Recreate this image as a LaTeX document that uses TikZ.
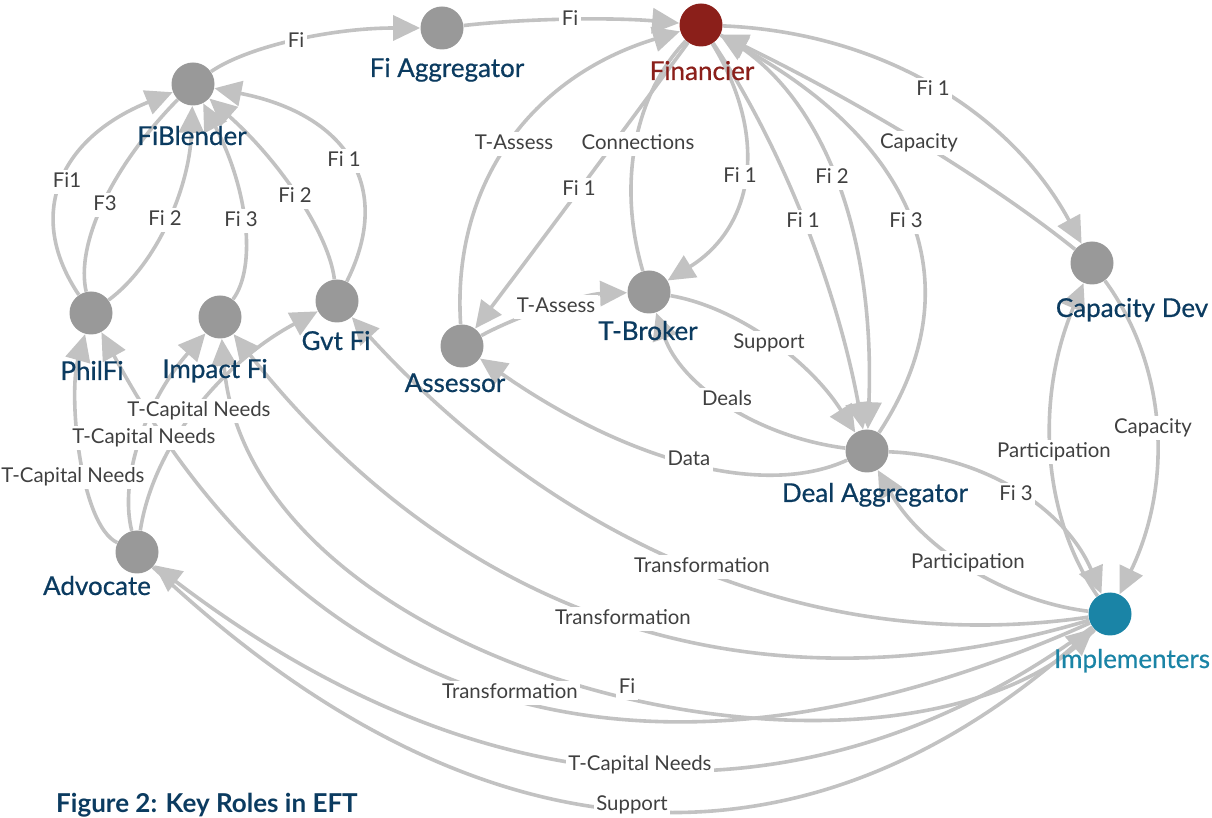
\documentclass[tikz,border=0pt]{standalone}
\usepackage{fontspec}
\setmainfont{Lato}
\newfontfamily\nodefont{Lato}[FakeBold=0.6]
\usetikzlibrary{arrows.meta,calc}
\definecolor{ngray}{RGB}{153,153,153}
\definecolor{egray}{RGB}{194,194,194}
\definecolor{nblue}{RGB}{11,59,96}
\definecolor{nred}{RGB}{139,31,26}
\definecolor{nteal}{RGB}{26,132,166}
\definecolor{ltxt}{RGB}{64,64,64}
\pgfdeclarelayer{edges}
\pgfdeclarelayer{elabels}
\pgfsetlayers{edges,elabels,main}
\tikzset{
  rolenode/.style={circle,fill=ngray,minimum size=21.5pt,inner sep=0pt},
  conn/.style={draw=egray,line width=1.8pt,-{Triangle[length=13.5pt,width=12.5pt]}},
  elab/.style={fill=white,inner sep=1.2pt,text=ltxt,text height=7.4pt,text depth=2.1pt,font=\fontsize{10.2}{12}\selectfont},
  nlab/.style={anchor=base,inner sep=0pt,text=nblue,font=\nodefont\fontsize{13}{16}\selectfont},
}
% quadratic edge through label point (midpoint of the quadratic curve)
\newcommand\qedge[6][]{%
  \coordinate (qc) at ($2*(#4)-0.5*(#2)-0.5*(#3)$);
  \begin{pgfonlayer}{edges}
  \draw[conn,#1] (#2) .. controls ($(#2)!0.6667!(qc)$) and ($(#3)!0.6667!(qc)$) .. (#3);
  \end{pgfonlayer}
  \begin{pgfonlayer}{elabels}
  \node[elab] (#5) at (#4) {#6};
  \end{pgfonlayer}}
% cubic edge with explicit controls
\newcommand\cedge[8][]{%
  \begin{pgfonlayer}{edges}
  \draw[conn,#1] (#2) .. controls (#4) and (#5) .. (#3);
  \end{pgfonlayer}
  \begin{pgfonlayer}{elabels}
  \node[elab] (#7) at (#6) {#8};
  \end{pgfonlayer}}
\begin{document}
\begin{tikzpicture}[x=0.5pt,y=-0.5pt]
\useasboundingbox (0,0) rectangle (1212,818);
% nodes
\node[rolenode] (FB) at (193,84) {};
\node[rolenode] (FA) at (442,28) {};
\node[rolenode,fill=nred] (FN) at (701,25) {};
\node[rolenode] (PF) at (91,313) {};
\node[rolenode] (IF) at (220,317) {};
\node[rolenode] (GF) at (337,301) {};
\node[rolenode] (AS) at (462,346) {};
\node[rolenode] (TB) at (649,292) {};
\node[rolenode] (CD) at (1092,263) {};
\node[rolenode] (DA) at (867,451) {};
\node[rolenode] (AD) at (137,552) {};
\node[rolenode,fill=nteal] (IM) at (1110,614) {};
% node labels
\node[nlab] (FBt) at (192,145) {FiBlender};
\node[nlab] (FAt) at (447,77) {Fi Aggregator};
\node[nlab,text=nred] (FNt) at (702,80) {Financier};
\node[nlab] (PFt) at (92,380) {PhilFi};
\node[nlab] (IFt) at (215,378) {Impact Fi};
\node[nlab] (GFt) at (336,350) {Gvt Fi};
\node[nlab] (ASt) at (455,392) {Assessor};
\node[nlab] (TBt) at (648,340) {T-Broker};
\node[nlab] (CDt) at (1132,317) {Capacity Dev};
\node[nlab] (DAt) at (875,502) {Deal Aggregator};
\node[nlab] (ADt) at (97,595) {Advocate};
\node[nlab,text=nteal] (IMt) at (1132,668) {Implementers};
\node[anchor=base,inner sep=0pt,text=nblue,font=\bfseries\fontsize{13}{15}\selectfont] (cap) at (207,812) {Figure 2: Key Roles in EFT};
% edges
\qedge{FB}{FA}{296,42}{l1}{Fi}
\qedge{FA}{FN}{570,20}{l2}{Fi}
\qedge{PF}{FB}{67,182}{l3}{Fi1}
\qedge[-]{PF}{FB}{105,205}{l4}{F3}
\qedge{PF}{FB}{165,220}{l5}{Fi 2}
\qedge{IF}{FB}{241,221}{l6}{Fi 3}
\qedge{GF}{FB}{295,197}{l7}{Fi 2}
\qedge{GF}{FB}{344,161}{l8}{Fi 1}
\qedge{AS}{FN}{514,144}{l9}{T-Assess}
\qedge[-]{TB}{FN}{638,144}{l10}{Connections}
\qedge{FN}{AS}{579,190}{l11}{Fi 1}
\qedge{FN}{TB}{740,177}{l12}{Fi 1}
\qedge{FN}{DA}{803,222}{l13}{Fi 1}
\qedge{FN}{DA}{832,178}{l14}{Fi 2}
\qedge{DA}{FN}{906,222}{l15}{Fi 3}
\qedge{FN}{CD}{933,90}{l16}{Fi 1}
\qedge{CD}{FN}{919,143}{l17}{Capacity}
\qedge{AS}{TB}{556,307}{l18}{T-Assess}
\qedge{TB}{DA}{769,343}{l19}{Support}
\qedge{DA}{TB}{727,400}{l20}{Deals}
\qedge{DA}{AS}{689,460}{l21}{Data}
\qedge{DA}{IM}{1016,495}{l22}{Fi 3}
\qedge{IM}{DA}{968,563}{l23}{Participation}
\qedge{IM}{CD}{1054,452}{l24}{Participation}
\qedge{CD}{IM}{1153,428}{l25}{Capacity}
\qedge{IM}{GF}{702,567}{l26}{Transformation}
\qedge{IM}{IF}{623,619}{l27}{Transformation}
\cedge{IM}{IF}{900,830}{250,680}{627,688}{l28}{Fi}
\qedge{IM}{PF}{510,693}{l29}{Transformation}
\qedge{IM}{AD}{640,765}{l30}{T-Capital Needs}
\qedge{AD}{IM}{632,805}{l31}{Support}
\cedge{AD}{PF}{80,525}{68,395}{73,477}{l32}{T-Capital Needs}
\qedge{AD}{IF}{144,438}{l33}{T-Capital Needs}
\qedge{AD}{GF}{199,411}{l34}{T-Capital Needs}
\end{tikzpicture}
\end{document}
